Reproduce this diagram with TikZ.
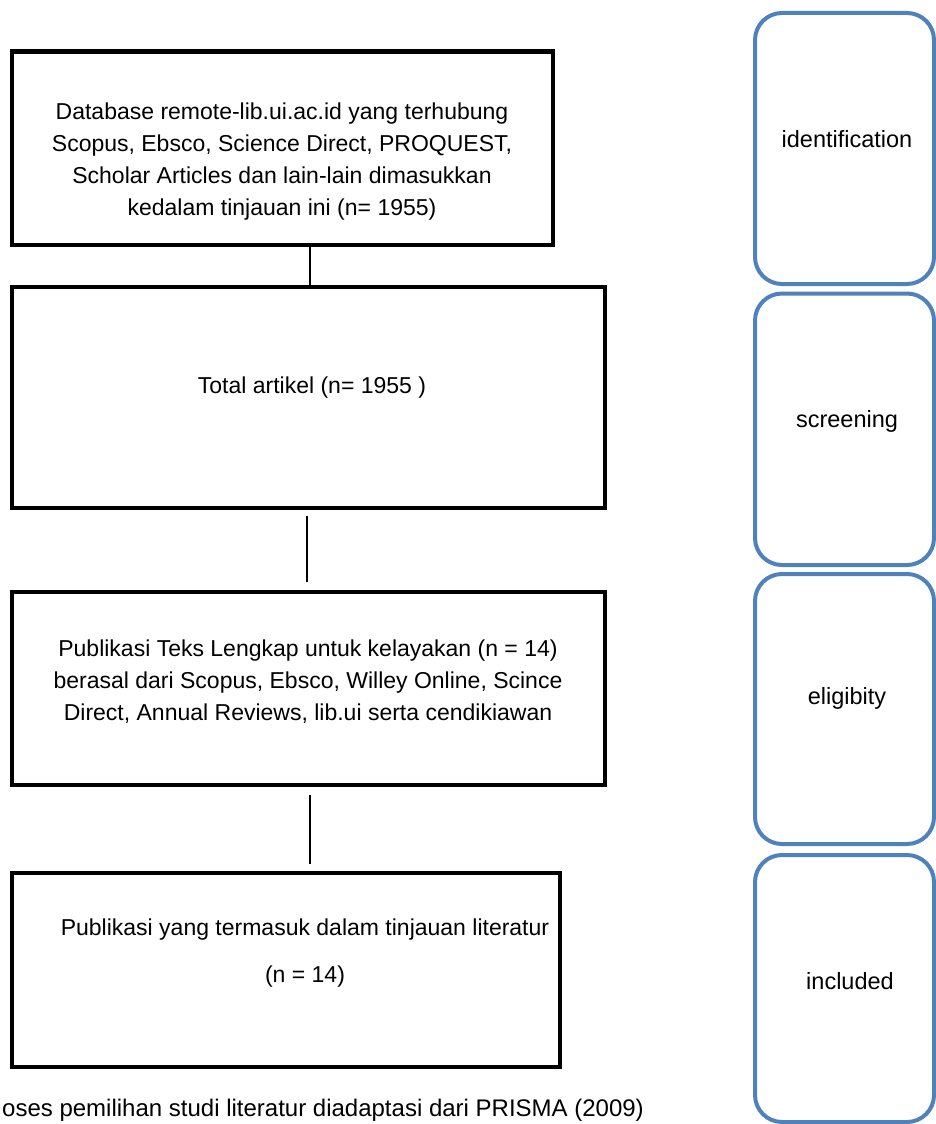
\documentclass[tikz,border=0pt]{standalone}
\usepackage{fontspec}
\setmainfont{Liberation Sans}
\definecolor{phaseblue}{HTML}{4F81BD}
\tikzset{
  flowbox/.style={draw=black, line width=4.5pt, rectangle, inner sep=0pt, outer sep=0pt},
  phase/.style={draw=phaseblue, line width=4pt, rounded corners=27pt, inner sep=0pt, outer sep=0pt, minimum width=179pt},
  txt/.style={font=\fontsize{23}{32}\selectfont, align=center, inner sep=0pt},
  side/.style={font=\fontsize{23.5}{30}\selectfont, inner sep=0pt},
  link/.style={line width=2pt}
}
\begin{document}
\begin{tikzpicture}[x=1pt,y=-1pt]
\useasboundingbox (0,0) rectangle (936,1124);
\fill[white] (0,0) rectangle (936,1124);
\clip (0,0) rectangle (936,1124);
% left flow boxes
\node[flowbox, minimum width=541pt, minimum height=193.5pt] (b1) at (282.5,148.25) {};
\node[flowbox, minimum width=593pt, minimum height=221pt] (b2) at (308.5,397.5) {};
\node[flowbox, minimum width=593pt, minimum height=193pt] (b3) at (308.5,688.5) {};
\node[flowbox, minimum width=548pt, minimum height=194pt] (b4) at (286,970) {};
% texts
\node[txt] (t1) at (282,161.5) {Database remote-lib.ui.ac.id yang terhubung\\Scopus, Ebsco, Science Direct, PROQUEST,\\Scholar Articles dan lain-lain dimasukkan\\kedalam tinjauan ini (n= 1955)};
\node[txt] (t2) at (312,387.5) {Total artikel (n= 1955 )};
\node[txt] (t3) at (308,682) {Publikasi Teks Lengkap untuk kelayakan (n = 14)\\berasal dari Scopus, Ebsco, Willey Online, Scince\\Direct, Annual Reviews, lib.ui serta cendikiawan};
\node[txt] (t4) at (305,953.5) {Publikasi yang termasuk dalam tinjauan literatur\\[15pt](n = 14)};
% connectors
\coordinate (l1) at (310,0);
\coordinate (l2) at (307,0);
\coordinate (l3) at (310,0);
\draw[link] (b1.south -| l1) -- (b2.north -| l1);
\draw[link, shorten <=8pt, shorten >=10pt] (b2.south -| l2) -- (b3.north -| l2);
\draw[link, shorten <=10pt, shorten >=9pt] (b3.south -| l3) -- (b4.north -| l3);
% right phase boxes
\node[phase, minimum height=271pt] (p1) at (844.5,148.5) {};
\node[phase, minimum height=271.5pt] (p2) at (844.5,429.25) {};
\node[phase, minimum height=270pt] (p3) at (844.5,709) {};
\node[phase, minimum height=267pt] (p4) at (844.5,988.5) {};
\node[side] (s1) at (847,139) {identification};
\node[side] (s2) at (847,421) {screening};
\node[side] (s3) at (847,698) {eligibity};
\node[side] (s4) at (850,981) {included};
% caption
\node[txt, font=\fontsize{24}{30}\selectfont, anchor=base west] (cap) at (2,1116) {oses pemilihan studi literatur diadaptasi dari PRISMA (2009)};
\end{tikzpicture}
\end{document}
